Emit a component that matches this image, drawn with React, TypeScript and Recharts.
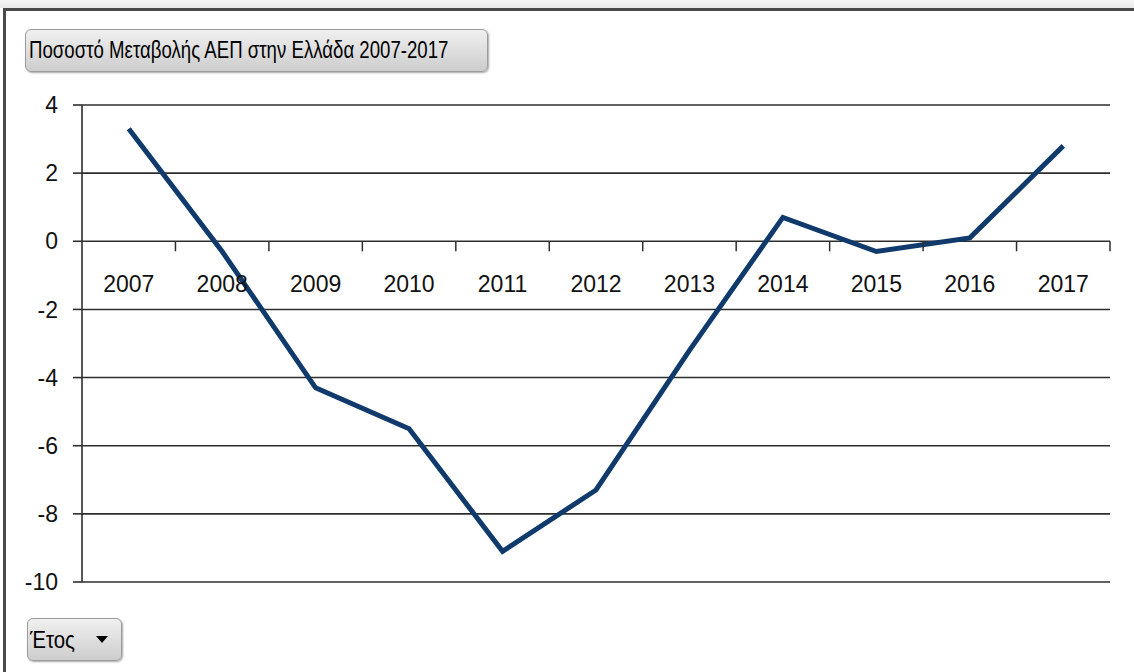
import React from 'react';
import { ComposedChart, Line, XAxis, YAxis, CartesianGrid, ReferenceDot } from 'recharts';

const years = ['2007', '2008', '2009', '2010', '2011', '2012', '2013', '2014', '2015', '2016', '2017'];
const growth = [3.3, -0.3, -4.3, -5.5, -9.1, -7.3, -3.2, 0.7, -0.3, 0.1, 2.8];
const yTicks = [-10, -8, -6, -4, -2, 0, 2, 4];
const titleText = 'Ποσοστό Μεταβολής ΑΕΠ στην Ελλάδα 2007-2017';
const filterText = 'Έτος';

const data = years.map((y, i) => ({ idx: i, year: y, value: growth[i] }));
const boundaries = years.map((_, i) => i + 0.5);

const AXIS = '#2e2e2e';
const LINE = '#0f3a6b';
const FONT = '"Liberation Sans", Arial, sans-serif';

const TickMark = (props: any) => (
  <line x1={props.cx} y1={props.cy} x2={props.cx} y2={props.cy + 10} stroke={AXIS} strokeWidth={1.5} />
);

const makeYearLabel = (label: string) => (props: any) => (
  <text x={props.cx} y={props.cy + 51} textAnchor="middle" fontFamily={FONT} fontSize={23} fill="#111">
    {label}
  </text>
);

const buttonStyle: React.CSSProperties = {
  position: 'absolute',
  boxSizing: 'border-box',
  border: '1px solid #9c9c9c',
  borderRadius: 6,
  background: 'linear-gradient(#f0f0f0, #cdcdcd)',
  boxShadow: '1px 1px 2px rgba(0,0,0,0.35)',
  fontFamily: FONT,
  color: '#000',
  display: 'flex',
  alignItems: 'center',
  whiteSpace: 'nowrap',
};

export default function App() {
  return (
    <div style={{ position: 'absolute', left: 0, top: 0, width: 1134, height: 672, background: '#fff', overflow: 'hidden' }}>
      <div style={{ position: 'absolute', left: 0, top: 0, width: 1134, height: 8, background: 'linear-gradient(#f6f6f6, #e9e9e9)' }} />
      <div style={{ position: 'absolute', left: 3, top: 8, width: 1131, height: 3, background: '#4a4a4a' }} />
      <div style={{ position: 'absolute', left: 3, top: 8, width: 3, height: 664, background: '#4a4a4a' }} />
      <div style={{ position: 'absolute', left: 0, top: 0 }}>
        <ComposedChart width={1134} height={672} data={data} margin={{ top: 105, right: 24, bottom: 90, left: 0 }}>
          <CartesianGrid horizontal vertical={false} stroke={AXIS} strokeWidth={1.6} />
          <XAxis dataKey="idx" type="number" domain={[-0.5, 10.5]} hide />
          <YAxis
            type="number"
            domain={[-10, 4]}
            ticks={yTicks}
            width={82}
            tickSize={9}
            tickMargin={15}
            axisLine={{ stroke: AXIS, strokeWidth: 1.6 }}
            tickLine={{ stroke: AXIS, strokeWidth: 1.6 }}
            tick={{ fontFamily: FONT, fontSize: 23, fill: '#111' }}
            interval={0}
          />
          {boundaries.map((b) => (
            <ReferenceDot key={'b' + b} x={b} y={0} r={1} shape={TickMark} />
          ))}
          {data.map((d) => (
            <ReferenceDot key={'l' + d.year} x={d.idx} y={0} r={1} shape={makeYearLabel(d.year)} />
          ))}
          <Line
            type="linear"
            dataKey="value"
            stroke={LINE}
            strokeWidth={5}
            dot={false}
            activeDot={false}
            isAnimationActive={false}
          />
        </ComposedChart>
      </div>
      <div style={{ ...buttonStyle, left: 25, top: 29, width: 463, height: 43, paddingLeft: 3, fontSize: 23 }}>
        <span style={{ display: 'inline-block', transform: 'scaleX(0.81)', transformOrigin: 'left center' }}>{titleText}</span>
      </div>
      <div style={{ ...buttonStyle, left: 27, top: 618, width: 95, height: 43, paddingLeft: 2, fontSize: 24 }}>
        <span style={{ display: 'inline-block', width: 66, transform: 'scaleX(0.85)', transformOrigin: 'left center' }}>{filterText}</span>
        <svg width={12} height={8}>
          <polygon points="0,0 12,0 6,7" fill="#000" />
        </svg>
      </div>
    </div>
  );
}
